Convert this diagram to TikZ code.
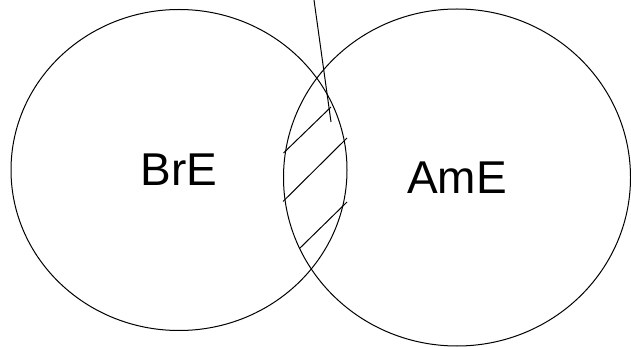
\documentclass[tikz,border=0pt]{standalone}
\usepackage{fontspec}
\setmainfont{Liberation Sans}
\usetikzlibrary{shapes.geometric}

\begin{document}
\begin{tikzpicture}[x=1pt, y=-1pt, line width=1pt,
    variety/.style={ellipse, draw, inner sep=0pt, font=\fontsize{46}{55}\selectfont}]
    \useasboundingbox (0,0) rectangle (631,347);
    \node[variety, minimum width=336pt, minimum height=321pt] (bre) at (179,170) {BrE};
    \node[variety, minimum width=347pt, minimum height=337pt] (ame) at (457,177.5) {AmE};
    \coordinate (pointer top) at (314,0);
    \coordinate (pointer end) at (331,122);
    \draw (pointer top) -- (pointer end);
    \draw (331,107) -- (283.5,153)
          (347,138) -- (283,201.5)
          (347,202) -- (299.5,248.5);
\end{tikzpicture}
\end{document}
